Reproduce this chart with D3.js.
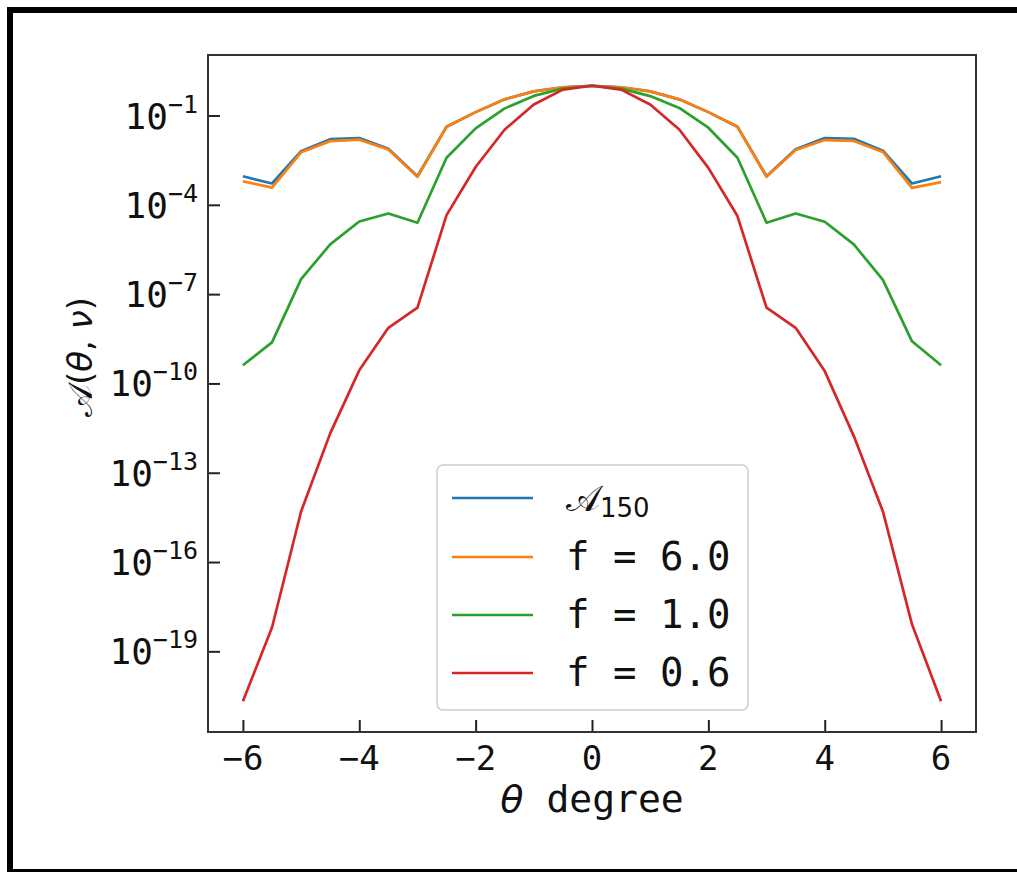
<!DOCTYPE html>
<html>
<head>
<meta charset="utf-8">
<script src="https://cdn.jsdelivr.net/npm/d3@7"></script>
<style>
  html, body { margin: 0; padding: 0; background: #fff; overflow: hidden; }
  svg { display: block; }
</style>
</head>
<body>
<svg id="chart" width="1017" height="872"></svg>
<script>
// ---- data ----
const theta = [-6, -5.5, -5, -4.5, -4, -3.5, -3, -2.5, -2, -1.5, -1, -0.5, 0, 0.5, 1, 1.5, 2, 2.5, 3, 3.5, 4, 4.5, 5, 5.5, 6];
const a150 = [9.1e-4, 5.2e-4, 6.3e-3, 1.6e-2, 1.75e-2, 7.6e-3, 9.1e-4, 4.2e-2, 0.13, 0.35, 0.65, 0.89, 1.0, 0.89, 0.65, 0.35, 0.13, 4.2e-2, 9.1e-4, 7.4e-3, 1.74e-2, 1.66e-2, 6.6e-3, 5.2e-4, 9.1e-4];
const f6 = [6.2e-4, 3.8e-4, 5.8e-3, 1.38e-2, 1.55e-2, 7.2e-3, 8.7e-4, 4.2e-2, 0.13, 0.35, 0.65, 0.89, 1.0, 0.89, 0.65, 0.35, 0.13, 4.2e-2, 8.7e-4, 7.0e-3, 1.5e-2, 1.4e-2, 6.0e-3, 3.7e-4, 5.8e-4];
const f1 = [4.1e-10, 2.4e-9, 3.2e-7, 4.7e-6, 2.75e-5, 5.1e-5, 2.5e-5, 3.8e-3, 3.7e-2, 0.174, 0.457, 0.81, 1.0, 0.80, 0.45, 0.18, 3.9e-2, 3.8e-3, 2.5e-5, 5.1e-5, 2.7e-5, 4.7e-6, 3.0e-7, 2.6e-9, 4.1e-10];
const f06 = [2.1e-21, 6.3e-19, 5.0e-15, 2.1e-12, 2.75e-10, 7.4e-9, 3.5e-8, 4.5e-5, 1.86e-3, 3.4e-2, 0.234, 0.74, 1.0, 0.74, 0.234, 3.4e-2, 1.75e-3, 4.2e-5, 3.5e-8, 7.4e-9, 2.6e-10, 1.7e-12, 5.0e-15, 8.1e-19, 2.1e-21];

const xTicks = [-6, -4, -2, 0, 2, 4, 6];
const xTickLabels = ["\u22126", "\u22124", "\u22122", "0", "2", "4", "6"];
const yTicks = [1e-1, 1e-4, 1e-7, 1e-10, 1e-13, 1e-16, 1e-19];
const yTickExponents = ["\u22121", "\u22124", "\u22127", "\u221210", "\u221213", "\u221216", "\u221219"];
const seriesNames = ["A150", "f = 6.0", "f = 1.0", "f = 0.6"];
const seriesColors = ["#1f77b4", "#ff7f0e", "#2ca02c", "#d62728"];
const seriesData = [a150, f6, f1, f06];

// ---- layout ----
const plot = { left: 208, top: 55, right: 976, bottom: 732 };
const mono = "'DejaVu Sans Mono', monospace";
const sans = "'DejaVu Sans', sans-serif";

const svg = d3.select("#chart");

// outer frame (right edge lies outside the picture)
svg.append("rect")
  .attr("x", 10).attr("y", 10).attr("width", 1100).attr("height", 862)
  .attr("fill", "none").attr("stroke", "#000").attr("stroke-width", 6);

const x = d3.scaleLinear().domain([-6.6, 6.6]).range([plot.left, plot.right]);
const y = d3.scaleLog().domain([1.95e-22, 10.8]).range([plot.bottom, plot.top]);

// series
const line = d3.line().x((d, i) => x(theta[i])).y(d => y(d));
const g = svg.append("g");
seriesData.forEach((s, k) => {
  g.append("path")
    .datum(s)
    .attr("d", line)
    .attr("fill", "none")
    .attr("stroke", seriesColors[k])
    .attr("stroke-width", 2.7)
    .attr("stroke-linejoin", "round");
});

// axes (ticks inside)
const xAxis = d3.axisBottom(x).tickValues(xTicks).tickSize(-12).tickFormat("");
const xg = svg.append("g").attr("transform", `translate(0,${plot.bottom})`).call(xAxis);
const yAxis = d3.axisLeft(y).tickValues(yTicks).tickSize(-12).tickFormat("");
const yg = svg.append("g").attr("transform", `translate(${plot.left},0)`).call(yAxis);
[xg, yg].forEach(a => {
  a.select(".domain").remove();
  a.selectAll(".tick line").attr("stroke", "#222").attr("stroke-width", 2);
});

// frame (spines)
svg.append("rect")
  .attr("x", plot.left).attr("y", plot.top)
  .attr("width", plot.right - plot.left).attr("height", plot.bottom - plot.top)
  .attr("fill", "none").attr("stroke", "#333").attr("stroke-width", 2);

// x tick labels
svg.append("g").selectAll("text").data(xTicks).join("text")
  .attr("x", d => x(d))
  .attr("y", 770)
  .attr("text-anchor", "middle")
  .attr("font-family", mono)
  .attr("font-size", 34)
  .attr("fill", "#111")
  .text((d, i) => xTickLabels[i]);

// y tick labels
const yl = svg.append("g").selectAll("text").data(yTicks).join("text")
  .attr("x", 198)
  .attr("y", d => y(d) + 13)
  .attr("text-anchor", "end")
  .attr("font-family", mono)
  .attr("font-size", 36)
  .attr("fill", "#111");
yl.append("tspan").text("10");
yl.append("tspan").attr("font-size", 25).attr("dy", -16).text((d, i) => yTickExponents[i]);

// axis labels
const xlab = svg.append("text")
  .attr("x", 592).attr("y", 812)
  .attr("text-anchor", "middle")
  .attr("font-size", 38)
  .attr("fill", "#111");
xlab.append("tspan").attr("font-family", sans).attr("font-style", "italic").text("\u03b8");
xlab.append("tspan").attr("font-family", mono).text(" degree");

const ylab = svg.append("text")
  .attr("transform", "translate(92,357) rotate(-90)")
  .attr("text-anchor", "middle")
  .attr("font-family", sans)
  .attr("font-size", 34)
  .attr("fill", "#111");
ylab.append("tspan").text("\ud835\udc9c");
ylab.append("tspan").text("(");
ylab.append("tspan").attr("font-style", "italic").text("\u03b8");
ylab.append("tspan").text(", ");
ylab.append("tspan").attr("font-style", "italic").text("\u03bd");
ylab.append("tspan").text(")");

// legend
const leg = svg.append("g");
leg.append("rect")
  .attr("x", 437).attr("y", 465).attr("width", 311).attr("height", 245)
  .attr("rx", 6).attr("ry", 6)
  .attr("fill", "#fff").attr("fill-opacity", 0.8)
  .attr("stroke", "#ccc").attr("stroke-width", 1.5);
const rowY = [498, 557, 615, 673];
seriesNames.forEach((name, k) => {
  leg.append("line")
    .attr("x1", 452).attr("x2", 533)
    .attr("y1", rowY[k]).attr("y2", rowY[k])
    .attr("stroke", seriesColors[k]).attr("stroke-width", 2.7);
  if (k === 0) {
    const t = leg.append("text")
      .attr("x", 566).attr("y", rowY[k] + 13)
      .attr("font-family", sans).attr("font-size", 36).attr("fill", "#111");
    t.append("tspan").text("\ud835\udc9c");
    t.append("tspan").attr("font-size", 26).attr("dy", 6).text("150");
  } else {
    leg.append("text")
      .attr("x", 566).attr("y", rowY[k] + 13)
      .attr("font-family", mono).attr("font-size", 39).attr("fill", "#111")
      .text(name);
  }
});
</script>
</body>
</html>
